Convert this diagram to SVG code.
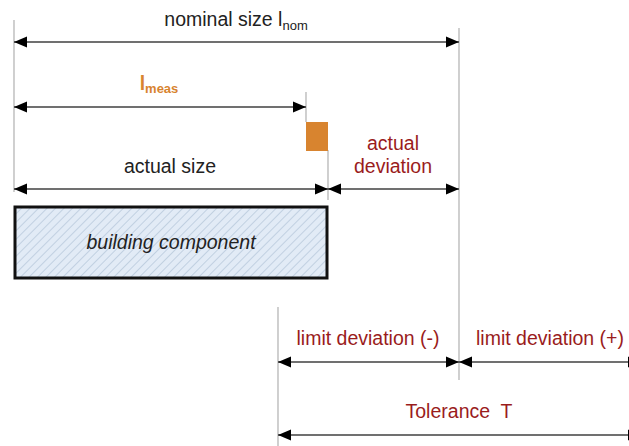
<svg xmlns="http://www.w3.org/2000/svg" width="629" height="446" viewBox="0 0 629 446">
<style>
.ext{stroke:#b0b0b0;stroke-width:1.2;fill:none}
.dim{stroke:#404040;stroke-width:1.5;fill:none;marker-start:url(#ah);marker-end:url(#ah)}
.t{font-family:"Liberation Sans",Arial,sans-serif;font-size:19.5px;text-anchor:middle}
.blk{fill:#222}
.red{fill:#9a1c1c}
.org{fill:#d8842f;font-weight:bold}
</style>
<defs>
<marker id="ah" markerUnits="userSpaceOnUse" markerWidth="14" markerHeight="12" refX="13" refY="6" orient="auto-start-reverse" viewBox="0 0 14 12">
<path d="M0,0.5 L13,6 L0,11.5 z" fill="#000"/>
</marker>
<pattern id="hatch" patternUnits="userSpaceOnUse" width="6" height="6" patternTransform="rotate(45)">
<rect width="6" height="6" fill="#e2ebf6"/>
<line x1="0" y1="0" x2="0" y2="6" stroke="#b9c9dc" stroke-width="1.6"/>
</pattern>
</defs>
<g id="extension-lines">
<line class="ext" x1="14" y1="20" x2="14" y2="192"/>
<line class="ext" x1="459" y1="28" x2="459" y2="380"/>
<line class="ext" x1="306" y1="92" x2="306" y2="122"/>
<line class="ext" x1="328" y1="150" x2="328" y2="200"/>
<line class="ext" x1="278" y1="307" x2="278" y2="446"/>
</g>
<g id="connectors">
<line class="dim" x1="14" y1="42" x2="459" y2="42"/>
<line class="dim" x1="14" y1="107" x2="306" y2="107"/>
<line class="dim" x1="14" y1="189" x2="328" y2="189"/>
<line class="dim" x1="328" y1="189" x2="459" y2="189"/>
<line class="dim" x1="278" y1="362" x2="459" y2="362"/>
<line class="dim" x1="459" y1="362" x2="641" y2="362"/>
<line class="dim" x1="278" y1="435" x2="641" y2="435"/>
</g>
<g id="deviation-block">
<rect x="306" y="122" width="22" height="29" fill="#d8842f"/>
</g>
<g id="building-component">
<rect x="15" y="207" width="312" height="71" fill="url(#hatch)" stroke="#111" stroke-width="3"/>
<text class="t blk" x="171" y="249" font-style="italic">building component</text>
</g>
<g id="labels">
<text class="t blk" x="236" y="26">nominal size l<tspan font-size="13" dy="4">nom</tspan></text>
<text class="t org" x="159" y="90">l<tspan font-size="13" dy="3">meas</tspan></text>
<text class="t blk" x="170" y="173">actual size</text>
<text class="t red" x="393" y="150">actual</text>
<text class="t red" x="393" y="173">deviation</text>
<text class="t red" x="368" y="345">limit deviation (-)</text>
<text class="t red" x="550" y="345">limit deviation (+)</text>
<text class="t red" x="459" y="418" xml:space="preserve">Tolerance  T</text>
</g>
</svg>
